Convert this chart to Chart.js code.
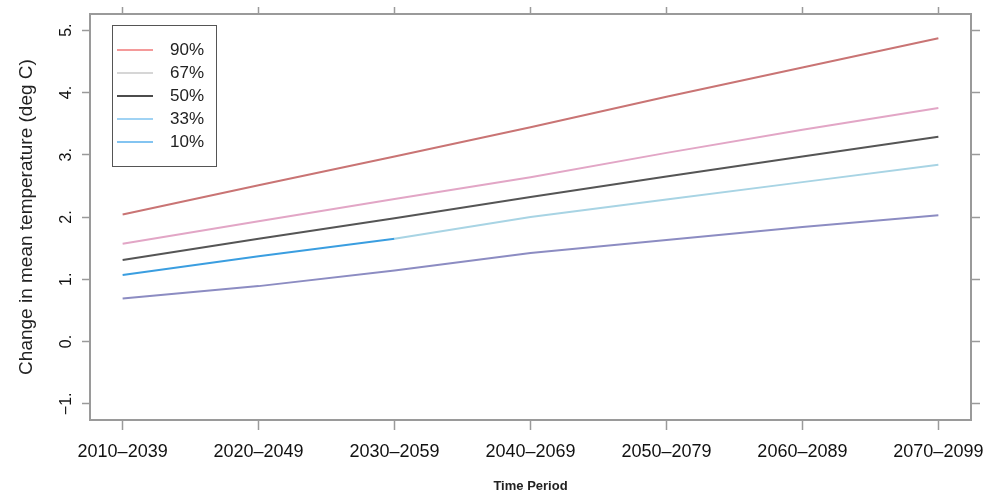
<!DOCTYPE html>
<html><head><meta charset="utf-8">
<script src="https://cdn.jsdelivr.net/npm/chart.js@4"></script>
<style>html,body{margin:0;padding:0;background:#fff}#wrap{width:992px;height:494px}</style>
</head><body><div id="wrap"><canvas id="c" width="992" height="494"></canvas></div>
<script>
// ---- data ----
const periods = ['2010–2039','2020–2049','2030–2059','2040–2069','2050–2079','2060–2089','2070–2099'];
const seriesNames = ['90%','67%','50%','33%','10%'];
const p90 = [2.04, 2.51, 2.97, 3.44, 3.93, 4.40, 4.87];
const p67 = [1.57, 1.93, 2.29, 2.64, 3.03, 3.40, 3.75];
const p50 = [1.31, 1.65, 1.98, 2.32, 2.65, 2.97, 3.29];
const p33 = [1.07, 1.37, 1.65, 2.00, 2.28, 2.56, 2.84];
const p10 = [0.69, 0.89, 1.14, 1.42, 1.63, 1.84, 2.03];
const yTickValues = [-1, 0, 1, 2, 3, 4, 5];

// ---- styles ----
const lineColors = ['#c97474', '#e2a6c6', '#555555', '#a8d4e4', '#8c8cc2'];
const legendColors = ['#f07878', '#c8c8c8', '#111111', '#80c4f0', '#5ab0ec'];
const seriesData = [p90, p67, p50, p33, p10];

Chart.defaults.font.family = '"Liberation Sans", Arial, Helvetica, sans-serif';
Chart.defaults.color = '#222';

const datasets = seriesData.map((arr, k) => ({
  label: seriesNames[k],
  data: arr.map((v, i) => ({x: i, y: v})),
  borderColor: lineColors[k],
  borderWidth: 2,
  pointRadius: 0,
  fill: false,
  tension: 0,
  xAxisID: 'x',
  yAxisID: 'y',
  segment: k === 3 ? {borderColor: c => c.p0DataIndex < 2 ? '#3a9ee0' : '#a8d4e4'} : undefined
}));

const frameColor = '#9a9a9a';
const xTickSetter = s => { s.ticks = periods.map((p, i) => ({value: i})); };
const yTickSetter = s => { s.ticks = yTickValues.map(v => ({value: v})); };
const noPad = s => { s.paddingLeft = 0; s.paddingRight = 0; s.paddingTop = 0; s.paddingBottom = 0; };

const legendPlugin = {
  id: 'boxLegend',
  afterDraw(chart) {
    const ctx = chart.ctx, a = chart.chartArea;
    const left = a.left + 22, top = a.top + 11, w = 104, h = 141;
    ctx.save();
    ctx.strokeStyle = '#555';
    ctx.lineWidth = 1;
    ctx.strokeRect(left + 0.5, top + 0.5, w, h);
    ctx.font = '17px "Liberation Sans", Arial, sans-serif';
    ctx.textBaseline = 'middle';
    ctx.textAlign = 'left';
    seriesNames.forEach((n, i) => {
      const y = top + 25 + i * 23;
      ctx.strokeStyle = legendColors[i];
      ctx.lineWidth = 1.5;
      ctx.beginPath();
      ctx.moveTo(left + 5, y);
      ctx.lineTo(left + 41, y);
      ctx.stroke();
      ctx.fillStyle = '#222';
      ctx.fillText(n, left + 58, y);
    });
    ctx.restore();
  }
};

new Chart(document.getElementById('c'), {
  type: 'line',
  data: {datasets},
  plugins: [legendPlugin],
  options: {
    responsive: false,
    animation: false,
    devicePixelRatio: 1,
    layout: {padding: 0},
    plugins: {legend: {display: false}, tooltip: {enabled: false}},
    scales: {
      x: {
        type: 'linear', position: 'bottom', min: -0.24, max: 6.24,
        afterBuildTicks: xTickSetter,
        afterFit: s => { s.height = 74; noPad(s); },
        ticks: {callback: v => periods[v], font: {size: 18}, color: '#111', padding: 11, maxRotation: 0, minRotation: 0, autoSkip: false},
        grid: {drawOnChartArea: false, drawTicks: true, tickLength: 10, color: frameColor, tickWidth: 1.5},
        border: {display: true, color: frameColor, width: 2},
        title: {display: true, text: 'Time Period', font: {size: 13, weight: 'bold'}, color: '#222', padding: 0}
      },
      x2: {
        type: 'linear', position: 'top', min: -0.24, max: 6.24,
        afterBuildTicks: xTickSetter,
        afterFit: s => { s.height = 14; noPad(s); },
        ticks: {display: false},
        grid: {drawOnChartArea: false, drawTicks: true, tickLength: 7, color: frameColor, tickWidth: 1.5},
        border: {display: true, color: frameColor, width: 2}
      },
      y: {
        type: 'linear', position: 'left', min: -1.26, max: 5.26,
        afterBuildTicks: yTickSetter,
        afterFit: s => { s.width = 90; noPad(s); },
        ticks: {callback: v => (v < 0 ? '−' : '') + Math.abs(v) + '.', font: {size: 16}, color: '#111', minRotation: 90, maxRotation: 90, crossAlign: 'center', padding: 4},
        grid: {drawOnChartArea: false, drawTicks: true, tickLength: 8, color: frameColor, tickWidth: 1.5},
        border: {display: true, color: frameColor, width: 2},
        title: {display: true, text: 'Change in mean temperature (deg C)', font: {size: 19}, color: '#222', padding: {top: 15, bottom: 0}}
      },
      y2: {
        type: 'linear', position: 'right', min: -1.26, max: 5.26,
        afterBuildTicks: yTickSetter,
        afterFit: s => { s.width = 21; noPad(s); },
        ticks: {display: false},
        grid: {drawOnChartArea: false, drawTicks: true, tickLength: 9, color: frameColor, tickWidth: 1.5},
        border: {display: true, color: frameColor, width: 2}
      }
    }
  }
});
</script>
</body></html>
